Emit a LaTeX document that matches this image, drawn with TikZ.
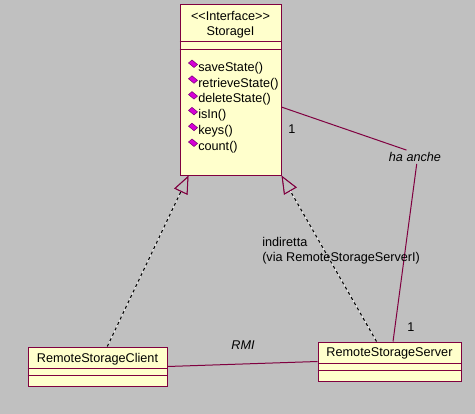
\documentclass[tikz,border=0pt]{standalone}
\usepackage{fontspec}
\setmainfont{Liberation Sans}
\usetikzlibrary{positioning,fit,arrows.meta}
\definecolor{umlBorder}{RGB}{128,0,64}
\definecolor{umlFill}{RGB}{255,255,204}
\definecolor{canvasGray}{RGB}{192,192,192}
\definecolor{opMagenta}{RGB}{214,0,214}
\definecolor{opDark}{RGB}{120,0,120}
\tikzstyle{diagram} = [x = .75pt, y = -.75pt, every node/.style={font=\fontsize{9.5}{11.25}\selectfont, inner sep=0pt}]
\tikzstyle{classStyle} = [draw=umlBorder, fill=umlFill, line width=.75pt, inner sep=0pt]
\tikzstyle{compartmentLine} = [draw=umlBorder, line width=.75pt]
\tikzstyle{assocLine} = [draw=umlBorder, line width=.75pt]
\tikzstyle{assocText} = [font=\fontsize{9.5}{11.25}\selectfont\itshape]
\tikzstyle{realizeLine} = [draw=black, line width=.75pt, dash pattern=on 2.25pt off 2.25pt, -{Triangle[open, length=13.5pt, width=11pt, color=umlBorder]}, preaction={draw=white, solid}]
\newcommand{\classBox}[5]{\node [classStyle, fit={(#2,#3) (#4,#5)}] (#1) {};}
\newcommand{\compartments}[3]{
  \draw [compartmentLine] (#1.west |- 0,#2) -- (#1.east |- 0,#2);
  \draw [compartmentLine] (#1.west |- 0,#3) -- (#1.east |- 0,#3);
}
\newcommand{\opDiamond}[2]{\filldraw [fill=opMagenta, draw=opDark, line width=.4pt] (#1 - 4.5, #2 - 1) -- (#1 - 1, #2 - 4) -- (#1 + 4.5, #2 + .5) -- (#1 + 1, #2 + 3.5) -- cycle;}

\begin{document}
\begin{tikzpicture}[diagram]
  \fill [canvasGray] (0,0) rectangle (475,414);
  \useasboundingbox (0,0) rectangle (475,414);

  % interface
  \classBox{iface}{180}{4}{281}{175}
  \compartments{iface}{41}{49}
  \node (stereo) at (230.5,16) {<{}<Interface>{}>};
  \node (ifaceName) at (230.5,32) {StorageI};
  \foreach \opName [count=\i] in {saveState(), retrieveState(), deleteState(), isIn(), keys(), count()} {
    \pgfmathsetmacro{\opY}{68 + 15.8 * (\i - 1)}
    \opDiamond{193}{\opY - 4}
    \node [anchor=west] (op\i) at (198,\opY) {\opName};
  }

  % classes
  \classBox{client}{28}{347}{167}{386}
  \compartments{client}{368}{375}
  \node (clientName) at (97.5,359) {RemoteStorageClient};

  \classBox{server}{318}{342}{461}{381}
  \compartments{server}{363}{370}
  \node (serverName) at (389.5,353) {RemoteStorageServer};

  % associations
  \node [assocText] (rmi) at (243,345) {RMI};
  \draw [assocLine] (client.east) -- (server.west);

  \node [assocText, inner sep=1.5pt] (haAnche) at (415,157) {ha anche};
  \draw [assocLine] (iface.-19) -- (haAnche.141);
  \draw [assocLine] (haAnche.-76) -- (server.80);
  \node (multIface) at (292,129) {1};
  \node (multServer) at (411,327) {1};

  % realizations
  \draw [realizeLine] (client.64) -- (iface.-116);
  \draw [realizeLine] (server.123) -- (iface.south east);
  \node [anchor=west, align=left] (indiretta) at (262,250.5) {indiretta\\(via RemoteStorageServerI)};
\end{tikzpicture}
\end{document}
